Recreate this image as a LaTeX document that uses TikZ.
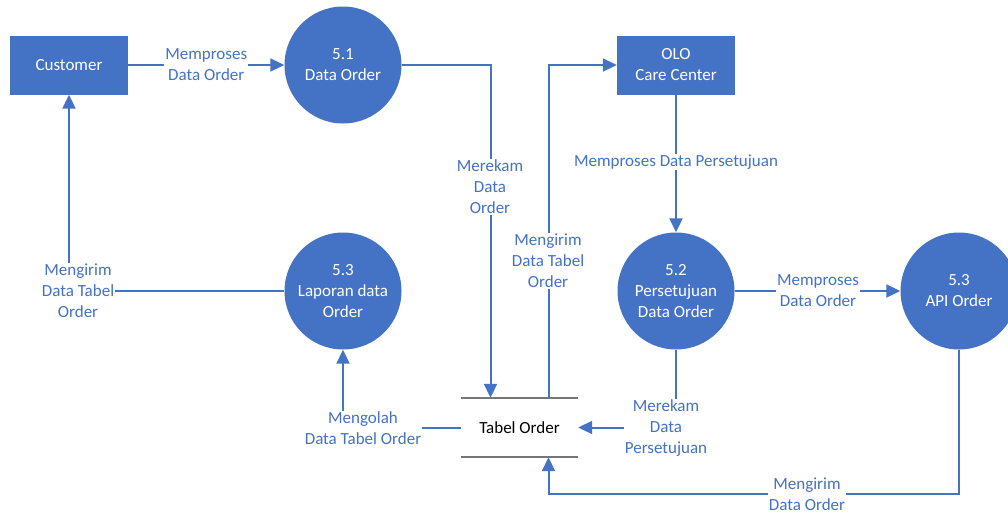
\documentclass[tikz,border=0pt]{standalone}
\usepackage{fontspec}
\setmainfont{Carlito}
\usetikzlibrary{arrows.meta, positioning, calc}
\definecolor{DFDblue}{RGB}{68, 114, 196}
\definecolor{DFDgray}{RGB}{118, 118, 118}
\tikzset{every path/.style={line join=miter}, >={Triangle[length=14pt, width=13pt]}}

\begin{document}
\begin{tikzpicture}[
    x=1pt, y=-1pt,
    dfdfont/.style={
        font=\fontsize{17}{21}\selectfont
    },
    entity/.style={
        dfdfont,
        fill=DFDblue,
        text=white,
        minimum width=118pt,
        minimum height=59pt,
        align=center
    },
    process/.style={
        dfdfont,
        circle,
        fill=DFDblue,
        text=white,
        minimum size=117pt,
        inner sep=0pt,
        align=center
    },
    store/.style={
        dfdfont,
        minimum width=117pt,
        minimum height=59pt,
        align=center
    },
    flowlabel/.style={
        dfdfont,
        fill=white,
        text=DFDblue,
        inner sep=1pt,
        align=center
    },
    flow/.style={
        ->,
        draw=DFDblue,
        line width=2pt
    }
]

\useasboundingbox (0,0) rectangle (1008,514);

\node[entity] (customer) at (69,65) {Customer};
\node[process] (p51) at (343,65) {5.1\\Data Order};
\node[entity] (olo) at (676,65) {OLO\\Care Center};
\node[process] (p52) at (676,291) {5.2\\Persetujuan\\Data Order};
\node[process] (p53api) at (959,291) {5.3\\API Order};
\node[process] (p53lap) at (343,291) {5.3\\Laporan data\\Order};
\node[store] (tabel) at (519.5,427.5) {Tabel Order};

\draw[DFDgray, line width=2pt] (tabel.north west) -- (tabel.north east)
    (tabel.south west) -- (tabel.south east);

\coordinate (tabelin) at ([xshift=-29pt]tabel.north);
\coordinate (tabelout) at ([xshift=29pt]tabel.north);
\coordinate (tabelbot) at ([xshift=29pt]tabel.south);

% aliran data
\draw[flow] (customer) -- node[flowlabel] (lbl1) {Memproses\\Data Order} (p51);
\draw[flow] (p51) -| (tabelin);
\draw[flow] (tabelout) |- (olo);
\draw[flow] (olo) -- (p52);
\draw[flow] (p52) -- (p53api);
\draw[flow] (p52) |- (tabel.east);
\draw[flow] (tabel.west) -| (p53lap);
\draw[flow] (p53lap) -| (customer);
\draw[flow] (p53api) |- ([yshift=-37pt]tabelbot) -- (tabelbot);

% label
\node[flowlabel] (lbl2) at (490,187) {Merekam\\Data\\Order};
\node[flowlabel] (lbl3) at (548,261) {Mengirim\\Data Tabel\\Order};
\node[flowlabel] (lbl4) at (676,162) {Memproses Data Persetujuan};
\node[flowlabel] (lbl5) at (818,291) {Memproses\\Data Order};
\node[flowlabel] (lbl6) at (666,428) {Merekam\\Data\\Persetujuan};
\node[flowlabel] (lbl7) at (363,428) {Mengolah\\Data Tabel Order};
\node[flowlabel] (lbl8) at (78,291) {Mengirim\\Data Tabel\\Order};
\node[flowlabel] (lbl9) at (807,494) {Mengirim\\Data Order};

\end{tikzpicture}
\end{document}
